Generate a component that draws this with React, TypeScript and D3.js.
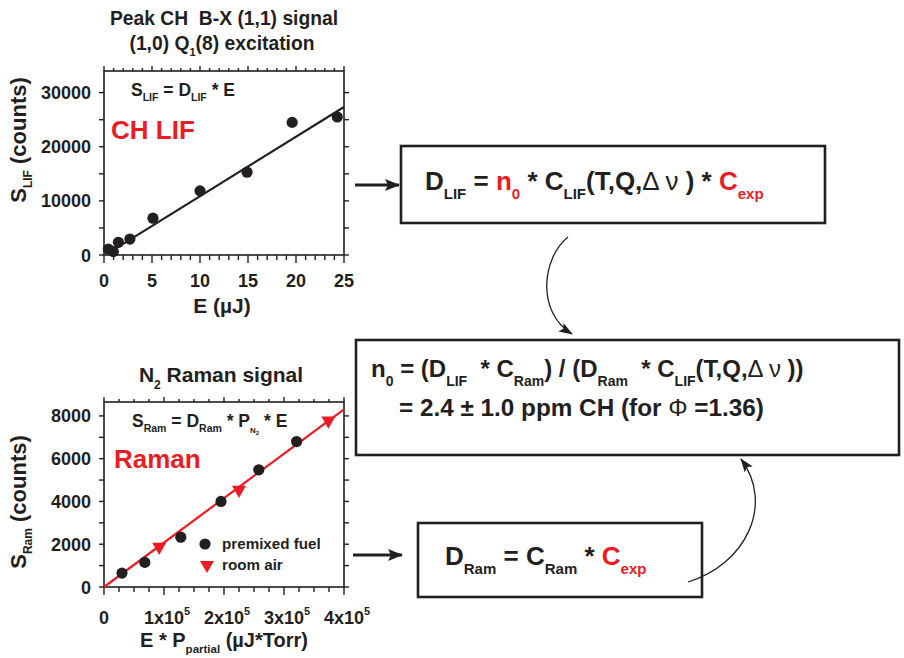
import React from "react";
import * as d3 from "d3";

// ---------- data ----------
const lifE = [0.45, 0.97, 1.5, 2.7, 5.1, 10.0, 14.9, 19.6, 24.3];
const lifS = [1100, 620, 2350, 2950, 6800, 11850, 15300, 24500, 25500];
const lifFitE = [0.4, 25];
const lifFitS = [300, 27350];
const lifXTicks = [0, 5, 10, 15, 20, 25];
const lifYTicks = [0, 10000, 20000, 30000];

const premixX = [30000, 68000, 128000, 195000, 258000, 321000];
const premixY = [650, 1150, 2330, 4000, 5480, 6800];
const airX = [92000, 225000, 374000];
const airY = [1880, 4540, 7780];
const ramFitX = [0, 400000];
const ramFitY = [0, 8310];
const ramXTicks = [0, 100000, 200000, 300000, 400000];
const ramYTicks = [0, 2000, 4000, 6000, 8000];

const FONT = "'Liberation Sans', Arial, Helvetica, sans-serif";
const INK = "#231f20";
const RED = "#ec1c24";

type Seg = { t: string; sub?: boolean; sup?: boolean; color?: string; w?: number; size?: number; off?: number };

function Rich({ x, y, size, segs, anchor = "start", transform, subSize, subOff }: any) {
  let cur = 0;
  const ss = subSize ?? Math.round(size * 0.6);
  const so = subOff ?? size * 0.33;
  const kids = (segs as Seg[]).map((s, i) => {
    const target = s.off !== undefined ? s.off : s.sub ? so : s.sup ? -size * 0.4 : 0;
    const dy = target - cur;
    cur = target;
    return (
      <tspan key={i} dy={dy} fontSize={s.size ?? (s.sub || s.sup ? ss : undefined)} fill={s.color} fontWeight={s.w}>
        {s.t}
      </tspan>
    );
  });
  return (
    <text x={x} y={y} fontSize={size} textAnchor={anchor} transform={transform} style={{ whiteSpace: "pre" }}>
      {kids}
    </text>
  );
}

function Frame({ x, y, left, right, top, bottom, xMinor, xMajorEvery, yMinor }: any) {
  const els: any[] = [];
  xMinor.forEach((v: number, i: number) => {
    const px = x(v);
    const major = i % xMajorEvery === 0;
    const L = major ? 8 : 5;
    els.push(<line key={"xb" + i} x1={px} x2={px} y1={bottom} y2={bottom + L} />);
    els.push(<line key={"xt" + i} x1={px} x2={px} y1={top} y2={top - (major ? 5 : 3)} />);
  });
  yMinor.forEach((v: number, i: number) => {
    const py = y(v);
    els.push(<line key={"yl" + i} x1={left} x2={left - 5} y1={py} y2={py} />);
    els.push(<line key={"yr" + i} x1={right} x2={right + 5} y1={py} y2={py} />);
  });
  return (
    <g stroke={INK} strokeWidth={1.4}>
      <rect x={left} y={top} width={right - left} height={bottom - top} fill="none" strokeWidth={1.6} />
      {els}
    </g>
  );
}

function LifChart() {
  const L = 104, R = 344, T = 71, B = 255;
  const x = d3.scaleLinear().domain([0, 25]).range([L, R]);
  const y = d3.scaleLinear().domain([0, 34000]).range([B, T]);
  const fit = d3.line<number>().x((_, i) => x(lifFitE[i])).y((d) => y(d));
  return (
    <g>
      <Rich x={224} y={25} size={19.3} segs={[{ t: "Peak CH  B-X (1,1) signal" }]} anchor="middle" />
      <Rich x={222} y={50} size={19.3} anchor="middle" subSize={11} subOff={6}
        segs={[{ t: "(1,0) Q" }, { t: "1", sub: true }, { t: "(8) excitation" }]} />
      <Frame x={x} y={y} left={L} right={R} top={T} bottom={B}
        xMinor={d3.range(0, 26, 1)} xMajorEvery={5} yMinor={d3.range(0, 34001, 5000)} />
      {lifYTicks.map((v) => (
        <text key={v} x={91} y={y(v) + 6.5} fontSize={18} textAnchor="end">{v}</text>
      ))}
      {lifXTicks.map((v) => (
        <text key={v} x={x(v)} y={287} fontSize={18} textAnchor="middle">{v}</text>
      ))}
      <text x={222} y={313} fontSize={21} textAnchor="middle">E (µJ)</text>
      <Rich x={0} y={0} size={22} subSize={12} subOff={6} anchor="middle" transform="translate(26,140) rotate(-90)"
        segs={[{ t: "S" }, { t: "LIF", sub: true }, { t: " (counts)" }]} />
      <Rich x={131} y={96} size={17.5} subSize={10.5} subOff={5}
        segs={[{ t: "S" }, { t: "LIF", sub: true }, { t: " = D" }, { t: "LIF", sub: true }, { t: " * E" }]} />
      <text x={111} y={139} fontSize={26} fill={RED}>CH LIF</text>
      <path d={fit(lifFitS) || ""} stroke={INK} strokeWidth={2.2} fill="none" />
      {lifE.map((e, i) => (
        <circle key={i} cx={x(e)} cy={y(lifS[i])} r={5.6} fill={INK} />
      ))}
    </g>
  );
}

function RamanChart() {
  const L = 104, R = 344, T = 402, B = 587;
  const x = d3.scaleLinear().domain([0, 400000]).range([L, R]);
  const y = d3.scaleLinear().domain([0, 8650]).range([B, T]);
  const fit = d3.line<number>().x((_, i) => x(ramFitX[i])).y((d) => y(d));
  const tri = d3.symbol().type(d3.symbolTriangle).size(85)();
  return (
    <g>
      <Rich x={221} y={382} size={21} anchor="middle" subSize={12} subOff={7}
        segs={[{ t: "N" }, { t: "2", sub: true }, { t: " Raman signal" }]} />
      <Frame x={x} y={y} left={L} right={R} top={T} bottom={B}
        xMinor={d3.range(0, 400001, 25000)} xMajorEvery={4} yMinor={d3.range(0, 8001, 1000)} />
      {ramYTicks.map((v) => (
        <text key={v} x={91} y={y(v) + 6.5} fontSize={18} textAnchor="end">{v}</text>
      ))}
      {ramXTicks.map((v) =>
        v === 0 ? (
          <text key={v} x={x(v)} y={624} fontSize={18} textAnchor="middle">0</text>
        ) : (
          <text key={v} x={x(v) + 3} y={624} fontSize={18} textAnchor="middle">
            {`${v / 100000}x10`}
            <tspan dy={-9} fontSize={11}>5</tspan>
          </text>
        )
      )}
      <Rich x={224} y={647} size={20} subSize={11.5} subOff={6} anchor="middle"
        segs={[{ t: "E * P" }, { t: "partial", sub: true }, { t: " (µJ*Torr)" }]} />
      <Rich x={0} y={0} size={22} subSize={12} subOff={6} anchor="middle" transform="translate(26,502) rotate(-90)"
        segs={[{ t: "S" }, { t: "Ram", sub: true }, { t: " (counts)" }]} />
      <Rich x={132} y={427} size={17.5} subSize={10.5} subOff={5}
        segs={[
          { t: "S" }, { t: "Ram", sub: true }, { t: " = D" }, { t: "Ram", sub: true }, { t: " * P" },
          { t: "N", size: 8, off: 6 }, { t: "2", size: 6, off: 8 }, { t: " * E" },
        ]} />
      <text x={114} y={468} fontSize={26} fill={RED}>Raman</text>
      <path d={fit(ramFitY) || ""} stroke={RED} strokeWidth={2.2} fill="none" />
      {premixX.map((v, i) => (
        <circle key={i} cx={x(v)} cy={y(premixY[i])} r={5.6} fill={INK} />
      ))}
      {airX.map((v, i) => (
        <path key={i} d={tri || ""} transform={`translate(${x(v)},${y(airY[i])}) rotate(180)`} fill={RED} />
      ))}
      <circle cx={205} cy={544} r={5.6} fill={INK} />
      <text x={222} y={549} fontSize={15.2}>premixed fuel</text>
      <path d={tri || ""} transform="translate(207,565) rotate(180)" fill={RED} />
      <text x={222} y={570} fontSize={15.2}>room air</text>
    </g>
  );
}

function Boxes() {
  return (
    <g>
      <defs>
        <marker id="ah" markerUnits="userSpaceOnUse" markerWidth={16} markerHeight={12} refX={14} refY={6} orient="auto">
          <path d="M0,0 L15,6 L0,12 L3,6 z" fill={INK} />
        </marker>
        <marker id="ahs" markerUnits="userSpaceOnUse" markerWidth={16} markerHeight={12} refX={13} refY={5} orient="auto">
          <path d="M0,0 L14,5 L0,10 L3,5 z" fill={INK} />
        </marker>
      </defs>
      <g fill="none" stroke={INK} strokeWidth={2.6}>
        <rect x={401} y={146} width={424} height={77} />
        <rect x={356} y={340} width={543} height={115} />
        <rect x={418} y={523} width={284} height={74} />
      </g>
      <line x1={355} x2={399} y1={185} y2={185} stroke={INK} strokeWidth={3} markerEnd="url(#ah)" />
      <line x1={353} x2={402} y1={555} y2={555} stroke={INK} strokeWidth={3} markerEnd="url(#ah)" />
      <path d="M568,237 C542,258 536,312 572,334" fill="none" stroke={INK} strokeWidth={1.3} markerEnd="url(#ahs)" />
      <path d="M688,582 C745,565 775,505 741,459" fill="none" stroke={INK} strokeWidth={1.3} markerEnd="url(#ahs)" />
      <Rich x={425} y={190} size={26} subSize={15} subOff={9}
        segs={[
          { t: "D" }, { t: "LIF", sub: true }, { t: " = " },
          { t: "n", color: RED }, { t: "0", sub: true, color: RED },
          { t: " * C" }, { t: "LIF", sub: true }, { t: "(T,Q," }, { t: "Δ ν", w: 400 }, { t: " ) * " },
          { t: "C", color: RED }, { t: "exp", sub: true, color: RED },
        ]} />
      <Rich x={371} y={377} size={24} subSize={14} subOff={9}
        segs={[
          { t: "n" }, { t: "0", sub: true }, { t: " = (D" }, { t: "LIF", sub: true }, { t: "  * C" },
          { t: "Ram", sub: true }, { t: ") / (D" }, { t: "Ram", sub: true }, { t: "  * C" },
          { t: "LIF", sub: true }, { t: "(T,Q," }, { t: "Δ ν", w: 400 }, { t: " ))" },
        ]} />
      <Rich x={399} y={416} size={24.3} segs={[{ t: "= 2.4 ± 1.0 ppm CH (for " }, { t: "Φ", w: 400 }, { t: " =1.36)" }]} />
      <Rich x={445} y={565} size={26} subSize={15} subOff={9}
        segs={[
          { t: "D" }, { t: "Ram", sub: true }, { t: " = C" }, { t: "Ram", sub: true }, { t: " * " },
          { t: "C", color: RED }, { t: "exp", sub: true, color: RED },
        ]} />
    </g>
  );
}

export default function App() {
  return (
    <svg width={904} height={658} style={{ position: "absolute", left: 0, top: 0, background: "#fff" }}
      fontFamily={FONT} fontWeight="bold" fill={INK}>
      <rect width={904} height={658} fill="#fff" />
      <LifChart />
      <RamanChart />
      <Boxes />
    </svg>
  );
}
